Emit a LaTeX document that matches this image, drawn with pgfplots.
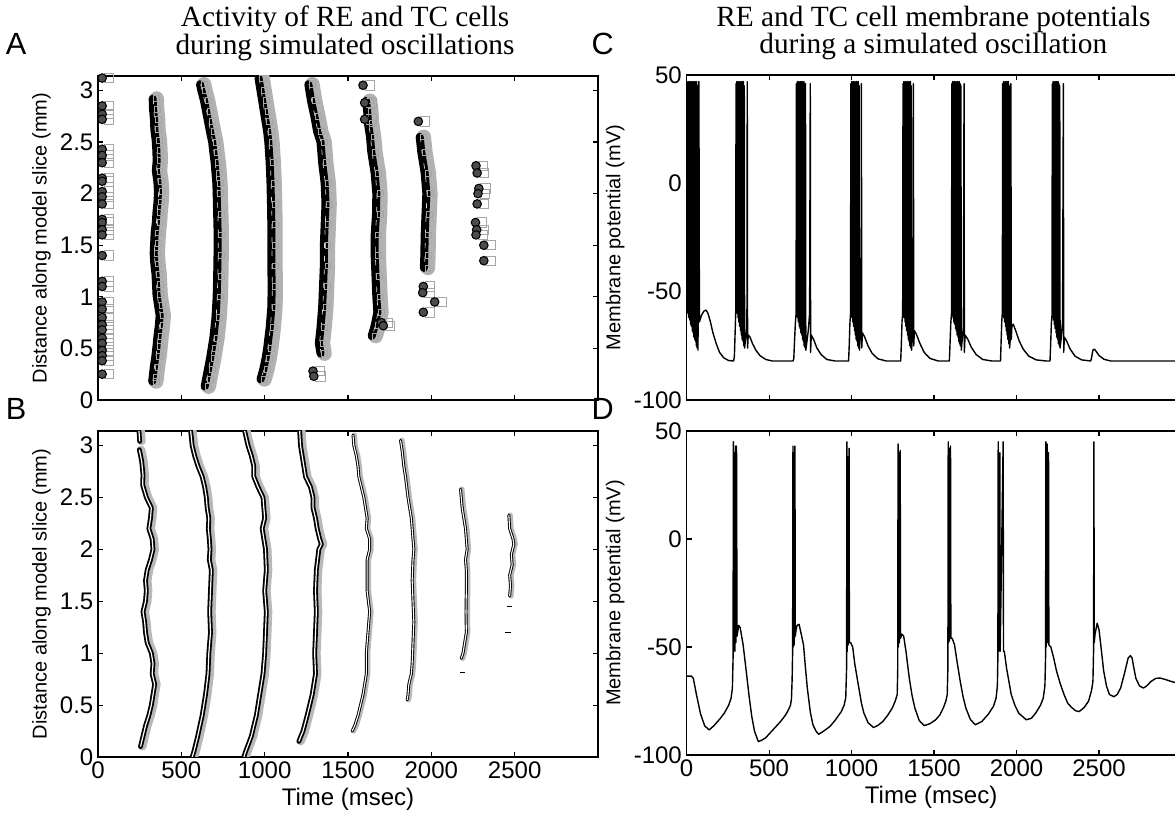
\documentclass[border=0pt]{standalone}
\usepackage{fontspec}
\setmainfont{Liberation Sans}
\newfontfamily\seriffont{Liberation Serif}
\usepackage{pgfplots}
\usepackage{pgfplotstable}
\pgfplotsset{compat=1.18}

\pgfplotsset{
  panel/.style={scale only axis, anchor=south west,
    axis line style={line width=0.9pt},
    major tick style={line width=0.8pt, black},
    major tick length=4pt, tick align=inside,
    tick label style={font=\fontsize{18}{18}\selectfont},
    /pgf/number format/assume math mode=true,
    /pgf/number format/1000 sep={},
    ylabel style={font=\fontsize{15}{15}\selectfont},
    xlabel style={font=\fontsize{18}{18}\selectfont},
    clip=true},
  raster/.style={panel, xmin=0, xmax=3000, ymin=0, ymax=3.14,
    xtick={0,500,1000,1500,2000,2500}, ytick={0,0.5,1,1.5,2,2.5,3},
    yticklabels={0,0.5,1,1.5,2,2.5,3},
    ylabel={Distance along model slice (mm)}, width=375pt},
  vm/.style={panel, xmin=0, xmax=2965, ymin=-100, ymax=50,
    xtick={0,500,1000,1500,2000,2500}, ytick={-100,-50,0,50}, ytick pos=left,
    ylabel={Membrane potential (mV)}, width=366.9pt},
  trace/.style={black, line width=1.05pt, line join=round, no markers},
}

\newcommand{\bandA}[1]{%
  \addplot[gray!60, line width=11pt, line join=round, line cap=round, xshift=3pt] table {#1};
  \addplot[black, line width=6pt, line join=round, line cap=round] table {#1};
  \addplot[gray!70, only marks, mark=square, mark size=2.2pt, line width=0.5pt, xshift=3pt] table {#1};
  \addplot[white!70!gray, line width=0.5pt, dash pattern=on 4pt off 6pt, xshift=0.5pt] table {#1};}
\newcommand{\bandB}[1]{%
  \addplot[gray!55, line width=6pt, line join=round, line cap=round, xshift=1.5pt] table {#1};
  \addplot[black, line width=3.6pt, line join=round, line cap=round] table {#1};
  \addplot[white, line width=0.9pt, line join=round] table {#1};}
\newcommand{\bandBthin}[1]{%
  \addplot[gray!55, line width=4pt, line join=round, line cap=round, xshift=1pt] table {#1};
  \addplot[black, line width=2.2pt, line join=round, line cap=round] table {#1};
  \addplot[white, line width=0.8pt, line join=round] table {#1};}

% ---------------- Panel A data ----------------
\pgfplotstableread{
x y
328 2.92
330 2.82
336 2.72
338 2.62
346 2.52
350 2.42
352 2.32
347 2.22
356 2.12
360 2.02
357 1.92
351 1.82
347 1.72
340 1.62
337 1.52
334 1.42
338 1.32
345 1.22
348 1.12
351 1.02
360 0.92
370 0.82
365 0.72
357 0.62
351 0.52
344 0.42
335 0.32
328 0.22
325 0.18
}\Aone
\pgfplotstableread{
x y
612 3.06
620 3.0
636 2.9
648 2.8
660 2.7
672 2.6
685 2.5
692 2.4
700 2.3
705 2.2
710 2.1
712 2.0
715 1.8
718 1.6
717 1.4
715 1.2
712 1.0
705 0.8
692 0.6
682 0.5
672 0.4
660 0.3
648 0.2
640 0.13
}\Atwo
\pgfplotstableread{
x y
963 3.12
975 3.0
985 2.9
995 2.8
1005 2.7
1015 2.6
1022 2.5
1030 2.3
1035 2.1
1038 1.9
1040 1.7
1040 1.5
1040 1.3
1042 1.1
1040 0.9
1030 0.7
1015 0.5
1005 0.4
992 0.3
975 0.2
}\Athree
\pgfplotstableread{
x y
1262 3.06
1278 2.9
1298 2.75
1315 2.6
1335 2.5
1345 2.3
1360 2.1
1365 1.9
1360 1.7
1355 1.5
1355 1.3
1350 1.1
1345 0.9
1335 0.7
1325 0.55
1335 0.45
}\Afour
\pgfplotstableread{
x y
1608 2.9
1615 2.8
1620 2.68
1632 2.55
1640 2.4
1660 2.2
1670 2.0
1668 1.8
1660 1.6
1660 1.4
1665 1.2
1670 1.0
1676 0.85
1660 0.72
1642 0.62
}\Afive
\pgfplotstableread{
x y
1930 2.55
1940 2.4
1960 2.2
1970 2.0
1965 1.8
1960 1.6
1958 1.4
1955 1.28
}\Asix
\pgfplotstableread{
x y
25 3.12
25 2.85
25 2.77
25 2.72
25 2.43
25 2.37
25 2.3
25 2.15
25 2.12
25 2.02
25 1.97
25 1.9
25 1.75
25 1.72
25 1.65
25 1.6
25 1.4
25 1.15
25 1.1
25 0.95
25 0.88
25 0.8
25 0.73
25 0.68
25 0.6
25 0.55
25 0.48
25 0.43
25 0.38
25 0.25
1290 0.28
1295 0.23
1590 3.05
1600 2.88
1600 2.72
1700 0.75
1712 0.72
1922 2.7
1952 1.1
1948 1.04
2020 0.95
1952 0.85
2268 2.27
2275 2.2
2285 2.05
2280 2.0
2275 1.9
2265 1.72
2272 1.65
2268 1.6
2315 1.5
2315 1.35
}\Ablobs

% ---------------- Panel B data ----------------
\pgfplotstableread{
x y
246 3.14
250 3.04
}\Bzero
\pgfplotstableread{
x y
248 2.96
262 2.85
270 2.72
268 2.62
290 2.5
320 2.4
315 2.3
305 2.2
325 2.1
330 2.0
315 1.9
295 1.8
285 1.7
290 1.6
285 1.5
270 1.4
280 1.3
285 1.2
295 1.1
320 1.0
330 0.9
325 0.8
340 0.7
330 0.6
320 0.5
305 0.4
285 0.3
270 0.2
255 0.1
}\Bone
\pgfplotstableread{
x y
556 3.14
565 3.0
580 2.9
600 2.8
625 2.7
640 2.6
650 2.5
655 2.4
665 2.3
662 2.2
668 2.1
672 2.0
668 1.9
680 1.8
675 1.6
670 1.4
675 1.2
665 1.0
660 0.8
645 0.6
625 0.4
598 0.2
575 0.05
565 0
}\Btwo
\pgfplotstableread{
x y
880 3.14
900 3.0
920 2.9
935 2.8
935 2.7
960 2.6
990 2.5
995 2.4
1000 2.3
985 2.2
995 2.1
1005 2.0
1010 1.8
1000 1.6
1010 1.4
1005 1.2
1000 1.0
990 0.8
970 0.6
950 0.4
920 0.2
885 0.05
875 0
}\Bthree
\pgfplotstableread{
x y
1210 3.14
1215 3.0
1225 2.9
1235 2.8
1245 2.7
1275 2.6
1290 2.5
1290 2.4
1305 2.3
1315 2.2
1330 2.1
1340 2.05
1325 2.0
1310 1.8
1305 1.6
1310 1.4
1305 1.2
1300 1.0
1305 0.8
1285 0.6
1255 0.4
1230 0.25
1205 0.15
}\Bfour
\pgfplotstableread{
x y
1530 3.1
1535 3.0
1550 2.9
1560 2.8
1565 2.7
1580 2.6
1595 2.5
1605 2.4
1615 2.3
1610 2.2
1630 2.1
1630 2.0
1615 1.9
1615 1.8
1615 1.6
1630 1.4
1620 1.2
1610 1.0
1610 0.8
1590 0.6
1560 0.4
1540 0.3
1525 0.25
}\Bfive
\pgfplotstableread{
x y
1815 3.05
1825 2.95
1835 2.8
1845 2.7
1860 2.5
1880 2.3
1890 2.1
1895 2.0
1890 1.9
1885 1.7
1890 1.5
1895 1.3
1890 1.1
1885 0.9
1880 0.8
1865 0.7
1860 0.6
1855 0.55
}\Bsix
\pgfplotstableread{
x y
2175 2.58
2185 2.4
2195 2.3
2205 2.2
2210 2.1
2215 2.0
2205 1.9
2210 1.8
2210 1.6
2208 1.4
2210 1.2
2200 1.1
2190 1.0
2180 0.95
}\Bseven
\pgfplotstableread{
x y
2465 2.33
2470 2.2
2490 2.1
2495 2.05
2480 1.95
2485 1.85
2470 1.75
2475 1.65
2470 1.55
}\Beight

\begin{document}
\begin{tikzpicture}
\path[use as bounding box] (0,0) rectangle (881.25pt,609.75pt);

% ---------------- A ----------------
\begin{axis}[raster, at={(73.5pt,309.75pt)}, height=243pt, xticklabels={}]
\bandA{\Aone}
\bandA{\Atwo}
\bandA{\Athree}
\bandA{\Afour}
\bandA{\Afive}
\bandA{\Asix}
\addplot[gray!70, only marks, mark=square, mark size=3.5pt, line width=0.6pt, xshift=5pt] table {\Ablobs};
\addplot[only marks, mark=*, mark size=3.2pt, draw=black, fill=black!70, line width=0.8pt] table {\Ablobs};
\end{axis}

% ---------------- B ----------------
\begin{axis}[raster, at={(73.5pt,42pt)}, height=244.5pt, xlabel={Time (msec)}]
\bandB{\Bzero}
\bandB{\Bone}
\bandB{\Btwo}
\bandB{\Bthree}
\bandB{\Bfour}
\bandBthin{\Bfive}
\bandBthin{\Bsix}
\bandBthin{\Bseven}
\bandBthin{\Beight}
\addplot[black, only marks, mark=-, mark size=2pt] coordinates {(2185,0.82) (2470,1.45) (2460,1.2)};
\end{axis}

% ---------------- C ----------------
\begin{axis}[vm, at={(514.9pt,309.75pt)}, height=243.75pt, xticklabels={}]
\addplot[trace] coordinates {
(0,-62)
(2,47)(4.5,-58)(7,46)(9.5,-60)(12,47)(14.5,-62)(17,46)(19.5,-63)(22,47)(24.5,-65)(27,46)(29.5,-66)(32,47)(34.5,-68)(37,46)(39.5,-69)(42,47)(44.5,-71)(47,46)(49.5,-72)(52,47)(54.5,-73)(57,46)(59.5,-75)(62,47)(64.5,-76)(67,45)(69.5,-77)(75,47)(78,-64)
(90,-61)(105,-59)(118,-58.5)(130,-60)(145,-64)(160,-69)(180,-74)(200,-78)(225,-80.5)(255,-81.8)(285,-82)
(290,-80)(294,-70)(298,-60)
(300,46)(302,-58)(305,47)(307,-60)(310,46)(312,-62)(315,47)(317,-64)(320,46)(322,-66)(325,47)(327,-68)(330,46)(332,-70)(335,47)(337,-72)(340,46)(342,-73)(345,47)(347,-75)(350,45)(352,-76)
(356,-73)(362,-70)(366,-66)(368,47)(370,-76)(374,-70)
(385,-71)(400,-74)(420,-77)(445,-79.5)(480,-81.3)(520,-82)(645,-82)
(650,-81)(655,-72)(660,-64)(664,-60)
(666,46)(668,-60)(671,47)(673,-62)(676,46)(678,-64)(681,47)(683,-66)(686,46)(688,-67)(691,47)(693,-69)(696,46)(698,-70)(701,47)(703,-72)(706,46)(708,-73)(711,47)(713,-75)(716,45)(718,-76)(721,46)(723,-77)
(728,-74)(738,-68)(746,-60)(750,46)(752,-78)(756,-70)
(770,-72)(790,-76)(815,-79)(850,-81.3)(900,-82)(982,-82)
(986,-75)(990,-65)(994,-60)
(996,46)(998,-60)(1001,47)(1003,-62)(1006,46)(1008,-64)(1011,47)(1013,-66)(1016,46)(1018,-68)(1021,47)(1023,-70)(1026,46)(1028,-72)(1031,47)(1033,-73)(1036,46)(1038,-75)(1041,47)(1043,-76)(1046,45)(1048,-77)
(1052,-72)(1058,-68)(1060,46)(1062,-76)(1066,-69)
(1080,-71)(1100,-75)(1125,-78.5)(1160,-81)(1210,-82)(1298,-82)
(1302,-74)(1306,-64)(1310,-60)
(1312,46)(1314,-60)(1317,47)(1319,-62)(1322,46)(1324,-64)(1327,47)(1329,-66)(1332,46)(1334,-68)(1337,47)(1339,-70)(1342,46)(1344,-72)(1347,47)(1349,-73)(1352,46)(1354,-75)(1357,47)(1359,-76)(1362,45)(1364,-77)
(1368,-72)(1373,-68)(1375,46)(1377,-75)(1381,-68)
(1395,-70)(1415,-74)(1440,-78)(1475,-80.8)(1525,-82)(1593,-82)
(1598,-72)(1602,-64)(1606,-60)
(1608,46)(1610,-60)(1613,47)(1615,-62)(1618,46)(1620,-64)(1623,47)(1625,-65)(1628,46)(1630,-67)(1633,47)(1635,-68)(1638,46)(1640,-70)(1643,47)(1645,-71)(1648,46)(1650,-73)(1653,47)(1655,-74)(1658,46)(1660,-75)(1663,45)(1665,-77)
(1670,-73)(1678,-66)(1682,46)(1684,-78)(1688,-70)
(1705,-72)(1725,-75.5)(1755,-79)(1795,-81.3)(1850,-82)(1903,-82)
(1907,-72)(1911,-63)(1914,-60)
(1916,46)(1918,-60)(1921,47)(1923,-62)(1926,46)(1928,-64)(1931,47)(1933,-66)(1936,46)(1938,-68)(1941,47)(1943,-70)(1946,46)(1948,-72)(1951,47)(1953,-74)(1956,45)(1958,-76)
(1962,-72)(1966,46)(1968,-72)(1972,-66)(1980,-65)
(1995,-68)(2015,-72.5)(2040,-76.5)(2075,-79.8)(2120,-81.5)(2180,-82)(2203,-82)
(2207,-74)(2211,-65)(2215,-61)
(2217,46)(2219,-61)(2222,47)(2224,-63)(2227,46)(2229,-65)(2232,47)(2234,-67)(2237,46)(2239,-69)(2242,47)(2244,-71)(2247,46)(2249,-72)(2252,47)(2254,-74)(2257,46)(2259,-75)(2262,45)(2264,-76)
(2270,-72)(2279,-64)(2284,46)(2286,-78)(2290,-71)
(2305,-73)(2325,-76.5)(2355,-79.8)(2395,-81.5)(2450,-82)
(2456,-80)(2463,-77)(2472,-76.5)(2482,-77.5)(2500,-79.5)(2530,-81.2)(2570,-82)(2965,-82)
};
\end{axis}

% ---------------- D ----------------
\begin{axis}[vm, at={(514.9pt,43.5pt)}, height=243pt, xlabel={Time (msec)}]
\addplot[trace] coordinates {
(0,-63.5)(30,-63.5)(41,-64.5)(60,-72)(85,-81)(110,-86.5)(137,-88.4)(165,-86.5)(200,-83.5)(229,-80.6)(255,-77)(270,-73.7)(278,-69)(282,-55)
(284,45)(286,-50)(291,40)(293,-52)(297,43)(299,-48)(303,43)(306,-45)(312,-42)(316,-40)(325,-41)(343,-49)(360,-60)(378,-72)(395,-82)(412,-89)(435,-93.8)(455,-93.2)(480,-92)(510,-89.5)(540,-87)(570,-84.5)(600,-81.5)(618,-79)(630,-77)(636,-74)(640,-65)(643,-52)
(645,43)(647,-50)(651,40)(653,-49)(657,43)(659,-45)(664,-42)(670,-40)(682,-39.5)(695,-44)(709,-49)(720,-59)(732,-69)(750,-80)(766,-86)(785,-89)(801,-90.4)(830,-89)(869,-86.8)(900,-84)(938,-79.9)(955,-77)(965,-73.5)(970,-60)
(972,45)(974,-52)(978,38)(980,-49)(985,42)(987,-48)(995,-48)(1007,-50)(1020,-58)(1041,-67.5)(1060,-76)(1075,-80.6)(1100,-85)(1133,-87.3)(1160,-86.3)(1190,-84.5)(1220,-81.5)(1247,-78.3)(1265,-75)(1277,-72)(1280,-60)
(1282,44)(1284,-50)(1288,40)(1290,-48)(1295,41)(1297,-46)(1305,-44)(1316,-45)(1330,-52)(1350,-64.4)(1367,-72.5)(1384,-78.3)(1410,-84)(1441,-86.4)(1475,-85.5)(1510,-83.7)(1535,-81.5)(1556,-78.3)(1572,-75)(1580,-72)(1584,-60)
(1586,45)(1588,-48)(1592,42)(1594,-47)(1600,43)(1602,-46)(1610,-46)(1624,-48.9)(1640,-57)(1659,-66)(1676,-73)(1693,-78.3)(1720,-83.5)(1750,-86)(1790,-84.5)(1830,-81)(1860,-77.5)(1876,-73.7)(1884,-68)(1887,-55)
(1889,45)(1891,-52)(1899,40)(1901,-52)(1919,45)(1921,-52)(1926,-52)(1940,-60)(1968,-72)(1990,-77)(2013,-80.6)(2059,-83.7)(2090,-83)(2116,-80.6)(2145,-77)(2162,-73.7)(2172,-68)(2176,-55)
(2178,45)(2180,-50)(2186,44)(2188,-48)(2194,40)(2196,-49)(2208,-50)(2225,-55)(2242,-61)(2265,-67)(2288,-72)(2310,-76)(2334,-78)(2358,-79.5)(2380,-79.9)(2410,-78)(2437,-75)(2455,-70)(2463,-66)(2467,-52)
(2469,45)(2471,-48)(2476,-44)(2489,-39)(2500,-42)(2515,-52)(2528,-61)(2545,-68)(2563,-72)(2590,-73)(2610,-72)(2631,-69)(2655,-62)(2677,-55)(2690,-54)(2700,-55)(2712,-60)(2723,-64.4)(2745,-68)(2769,-69)(2790,-68)(2814,-66)(2845,-64.5)(2871,-64.4)(2900,-65)(2940,-66)(2965,-66.5)
};
\end{axis}

% ---------------- titles and panel letters ----------------
\node[font=\seriffont\fontsize{22}{20}\selectfont, align=center] at (258.75pt,585pt) {Activity of RE and TC cells\\during simulated oscillations};
\node[font=\seriffont\fontsize{22}{20}\selectfont, align=center] at (700pt,585pt) {RE and TC cell membrane potentials\\during a simulated oscillation};
\node[font=\fontsize{23}{23}\selectfont] at (12pt,577pt) {A};
\node[font=\fontsize{23}{23}\selectfont] at (12pt,303pt) {B};
\node[font=\fontsize{23}{23}\selectfont] at (452pt,577pt) {C};
\node[font=\fontsize{23}{23}\selectfont] at (452pt,303pt) {D};
\end{tikzpicture}
\end{document}
